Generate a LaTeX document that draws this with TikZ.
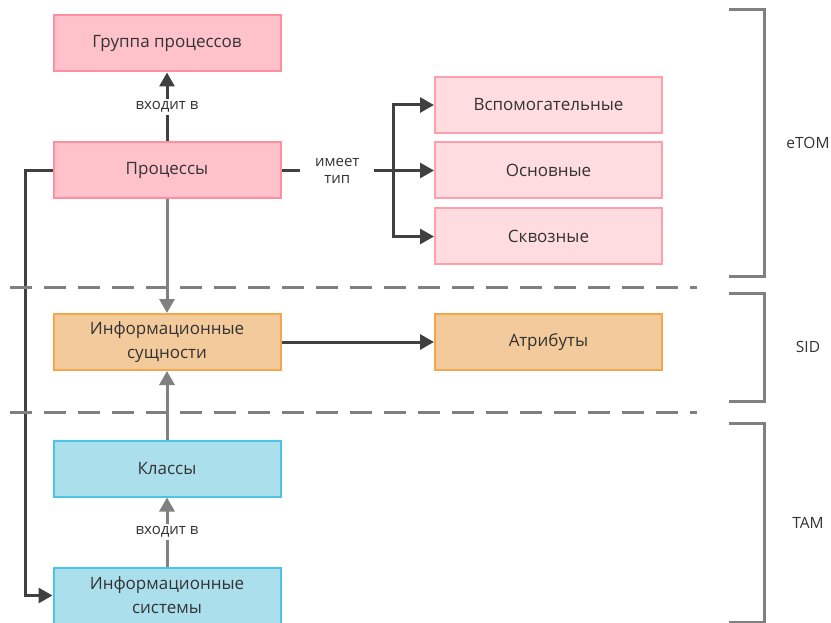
\documentclass[tikz,border=0pt]{standalone}
\usepackage{fontspec}
\setmainfont{Open Sans}
\usetikzlibrary{arrows.meta}

\definecolor{txt}{HTML}{333333}
\definecolor{darkline}{HTML}{404040}
\definecolor{greyline}{HTML}{808080}
\definecolor{pinkfill}{HTML}{FFC2CB}
\definecolor{pinkdraw}{HTML}{FF8FA0}
\definecolor{lpinkfill}{HTML}{FFDCE0}
\definecolor{lpinkdraw}{HTML}{FF9FAA}
\definecolor{orfill}{HTML}{F3CA9B}
\definecolor{ordraw}{HTML}{F5A54A}
\definecolor{bluefill}{HTML}{ABDFEC}
\definecolor{bluedraw}{HTML}{4CC4E4}

\tikzset{
  box/.style={rectangle, minimum width=227pt, minimum height=56pt,
    line width=2pt, text=txt, align=center,
    font=\fontsize{17}{24}\selectfont},
  procbox/.style={box, fill=pinkfill, draw=pinkdraw},
  typebox/.style={box, fill=lpinkfill, draw=lpinkdraw},
  entbox/.style={box, fill=orfill, draw=ordraw},
  sysbox/.style={box, fill=bluefill, draw=bluedraw},
  lbl/.style={fill=white, text=txt, align=center, inner sep=3pt,
    font=\fontsize{15}{20}\selectfont},
  darkarrow/.style={draw=darkline, line width=3pt,
    -{Triangle[length=14pt,width=15pt]}},
  greyarrow/.style={draw=greyline, line width=3pt,
    -{Triangle[length=14pt,width=15pt]}},
  darkplain/.style={draw=darkline, line width=3pt},
  divider/.style={draw=greyline, line width=3pt, dash pattern=on 22pt off 12pt},
  bracket/.style={draw=greyline, line width=3pt},
  layername/.style={text=txt, font=\fontsize{15.5}{18}\selectfont},
}

\begin{document}
\begin{tikzpicture}[x=1pt, y=-1pt]
  \useasboundingbox (0,0) rectangle (831,623);

  % layer dividers
  \coordinate (d1a) at (10,287);
  \coordinate (d1b) at (697,287);
  \coordinate (d2a) at (10,412);
  \coordinate (d2b) at (697,412);

  % eTOM layer
  \node[procbox] (grp) at (167,43.5) {Группа процессов};
  \node[procbox] (proc) at (167,170.5) {Процессы};
  \node[typebox] (aux) at (548.5,105) {Вспомогательные};
  \node[typebox] (main) at (548.5,170.5) {Основные};
  \node[typebox] (cross) at (548.5,236.5) {Сквозные};

  % SID layer
  \node[entbox] (ent) at (167,342) {Информационные\\сущности};
  \node[entbox] (attr) at (548.5,342) {Атрибуты};

  % TAM layer
  \node[sysbox] (cls) at (167,468.5) {Классы};
  \node[sysbox] (sys) at (167,595.5) {Информационные\\системы};

  % connectors
  \draw[darkarrow] (proc) -- node[lbl] (inc1) {входит в} (grp);

  \coordinate (fork) at (393,170.5);
  \draw[darkplain] (proc.east) -- node[lbl, minimum width=74pt, inner sep=0pt] (hastype) {имеет\\[-3pt]тип} (fork);
  \draw[darkarrow] (fork |- aux.west) -- (aux.west);
  \draw[darkarrow] (fork) -- (main.west);
  \draw[darkarrow] (fork |- cross.west) -- (cross.west);
  \draw[darkplain, line cap=rect] (fork |- aux.west) -- (fork |- cross.west);

  \draw[greyarrow] (proc) -- (ent);
  \draw[darkarrow] (ent) -- (attr);
  \draw[greyarrow] (cls) -- (ent);
  \draw[greyarrow] (sys) -- node[lbl] (inc2) {входит в} (cls);

  \coordinate (lt) at (25,170.5);
  \draw[darkarrow] (proc.west) -- (lt) |- (sys.west);

  % dashed layer dividers
  \draw[divider] (d1a) -- (d1b);
  \draw[divider] (d2a) -- (d2b);

  % layer brackets
  \draw[bracket] (729,10) -- (764,10) -- (764,276) -- (729,276);
  \draw[bracket] (729,293) -- (764,293) -- (764,401) -- (729,401);
  \draw[bracket] (729,423) -- (764,423) -- (764,622) -- (729,622);
  \node[layername] (etom) at (808,143) {eTOM};
  \node[layername] (sid) at (808,347) {SID};
  \node[layername] (tam) at (808,523) {TAM};
\end{tikzpicture}
\end{document}
